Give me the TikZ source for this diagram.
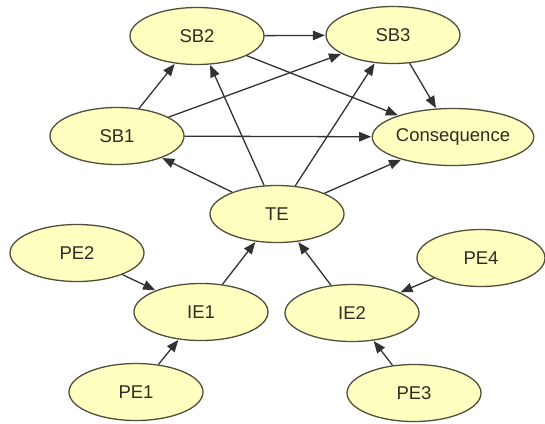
\documentclass[tikz,border=0pt]{standalone}
\usepackage{fontspec}
\setmainfont{Liberation Sans}
\usetikzlibrary{shapes.geometric,arrows.meta}
\definecolor{nodefill}{RGB}{255,255,192}
\definecolor{nodeline}{RGB}{80,78,60}
\definecolor{edgecol}{RGB}{50,50,50}
\definecolor{txtcol}{RGB}{45,45,35}
\tikzset{
  ev/.style={ellipse, draw=nodeline, line width=1.3pt, fill=nodefill,
    minimum width=134pt, minimum height=57pt, inner sep=0pt,
    font=\fontsize{18.5}{21}\selectfont, text=txtcol},
  link/.style={draw=edgecol, line width=1.3pt,
    -{Triangle[length=12pt,width=9.5pt]}, shorten >=0.5pt}
}
\begin{document}
\begin{tikzpicture}[x=1pt,y=-1pt]
\useasboundingbox[fill=white] (0,0) rectangle (545,423);
\node[ev] (sb2) at (197,36) {SB2};
\node[ev] (sb3) at (393,35) {SB3};
\node[ev] (sb1) at (117,136) {SB1};
\node[ev, minimum width=150pt] (cons) at (453,137) {Consequence};
\node[ev] (te) at (277,214) {TE};
\node[ev] (pe2) at (77,253) {PE2};
\node[ev] (ie1) at (201,312) {IE1};
\node[ev] (ie2) at (352,313) {IE2};
\node[ev, minimum width=128pt] (pe4) at (481,258) {PE4};
\node[ev] (pe1) at (136,392) {PE1};
\node[ev] (pe3) at (414,393) {PE3};
\draw[link] (sb2) -- (sb3);
\draw[link] (sb2) -- (cons);
\draw[link] (sb3) -- (cons);
\draw[link] (sb1) -- (sb2);
\draw[link] (sb1) -- (sb3);
\draw[link] (sb1) -- (cons);
\draw[link] (te) -- (sb1);
\draw[link] (te) -- (sb2);
\draw[link] (te) -- (sb3);
\draw[link] (te) -- (cons);
\draw[link] (ie1) -- (te);
\draw[link] (ie2) -- (te);
\draw[link] (pe2) -- (ie1);
\draw[link] (pe1) -- (ie1);
\draw[link] (pe4) -- (ie2);
\draw[link] (pe3) -- (ie2);
\end{tikzpicture}
\end{document}
